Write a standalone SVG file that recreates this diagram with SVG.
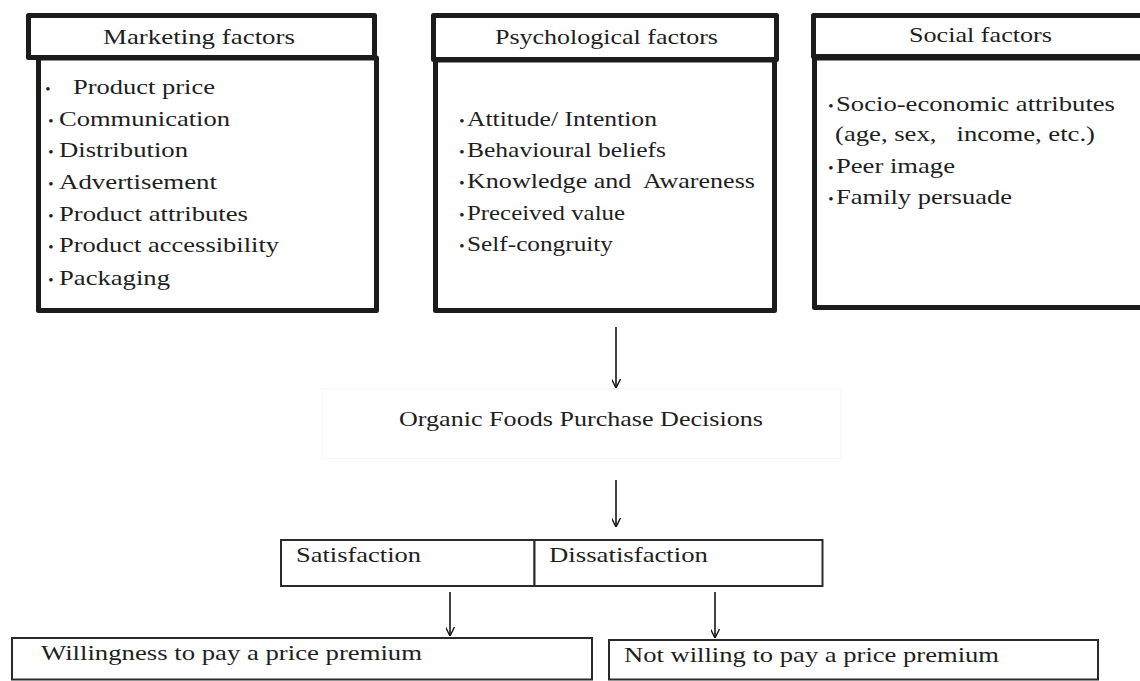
<svg xmlns="http://www.w3.org/2000/svg" width="1140" height="681" viewBox="0 0 1140 681" font-family="'Liberation Serif', 'DejaVu Serif', serif">
  <style>
    .thick { fill: #ffffff; stroke: #1c1c1c; stroke-width: 5; stroke-linejoin: round; }
    .thin { fill: #ffffff; stroke: #2a2a2a; stroke-width: 2; }
    .faint { fill: none; stroke: #f7f7f7; stroke-width: 1; }
    text { font-family: 'Liberation Serif', 'DejaVu Serif', serif; fill: #1e1e1e; }
    .t { font-size: 21px; }
    .h { font-size: 22px; }
    .lo { font-size: 22px; }
    .b { font-size: 15px; text-anchor: middle; }
    .arrow { stroke: #151515; stroke-width: 1.6; fill: none; marker-end: url(#head); }
  </style>
  <defs>
    <marker id="head" viewBox="0 0 10 10" refX="10" refY="5" markerWidth="9" markerHeight="9" markerUnits="userSpaceOnUse" orient="auto">
      <path d="M0,0 L10,5 L0,10" fill="none" stroke="#151515" stroke-width="1.6"/>
    </marker>
  </defs>

  <rect width="1140" height="681" fill="#ffffff"/>

  <!-- Marketing factors -->
  <g id="marketing">
    <rect class="thick" x="38.5" y="58" width="338" height="252.5"/>
    <rect class="thick" x="28.5" y="15.5" width="346" height="42"/>
    <text class="h" x="103" y="44" textLength="192" lengthAdjust="spacingAndGlyphs">Marketing factors</text>
    <text class="b" x="48" y="94">•</text>
    <text class="t" x="73" y="94" textLength="142" lengthAdjust="spacingAndGlyphs">Product price</text>
    <text class="b" x="51" y="126">•</text>
    <text class="t" x="59" y="126" textLength="171" lengthAdjust="spacingAndGlyphs">Communication</text>
    <text class="b" x="51" y="157">•</text>
    <text class="t" x="59" y="157" textLength="129" lengthAdjust="spacingAndGlyphs">Distribution</text>
    <text class="b" x="51" y="189">•</text>
    <text class="t" x="59" y="189" textLength="158" lengthAdjust="spacingAndGlyphs">Advertisement</text>
    <text class="b" x="51" y="221">•</text>
    <text class="t" x="59" y="221" textLength="189" lengthAdjust="spacingAndGlyphs">Product attributes</text>
    <text class="b" x="51" y="252">•</text>
    <text class="t" x="59" y="252" textLength="220" lengthAdjust="spacingAndGlyphs">Product accessibility</text>
    <text class="b" x="51" y="285">•</text>
    <text class="t" x="59" y="285" textLength="111" lengthAdjust="spacingAndGlyphs">Packaging</text>
  </g>

  <!-- Psychological factors -->
  <g id="psychological">
    <rect class="thick" x="435.5" y="60" width="339" height="250.5"/>
    <rect class="thick" x="433.5" y="15.5" width="343" height="44"/>
    <text class="h" x="495" y="44" textLength="223" lengthAdjust="spacingAndGlyphs">Psychological factors</text>
    <text class="b" x="462" y="126">•</text>
    <text class="t" x="467" y="126" textLength="190" lengthAdjust="spacingAndGlyphs">Attitude/ Intention</text>
    <text class="b" x="462" y="157">•</text>
    <text class="t" x="467" y="157" textLength="199" lengthAdjust="spacingAndGlyphs">Behavioural beliefs</text>
    <text class="b" x="462" y="188">•</text>
    <text class="t" x="467" y="188" textLength="288" lengthAdjust="spacingAndGlyphs" xml:space="preserve">Knowledge and  Awareness</text>
    <text class="b" x="462" y="220">•</text>
    <text class="t" x="467" y="220" textLength="158" lengthAdjust="spacingAndGlyphs">Preceived value</text>
    <text class="b" x="462" y="251">•</text>
    <text class="t" x="467" y="251" textLength="146" lengthAdjust="spacingAndGlyphs">Self-congruity</text>
  </g>

  <!-- Social factors -->
  <g id="social">
    <rect class="thick" x="814.5" y="58" width="340" height="249.5"/>
    <rect class="thick" x="813.5" y="15.5" width="340" height="41"/>
    <text class="h" x="909" y="42" textLength="143" lengthAdjust="spacingAndGlyphs">Social factors</text>
    <text class="b" x="831" y="111">•</text>
    <text class="t" x="836" y="111" textLength="279" lengthAdjust="spacingAndGlyphs">Socio-economic attributes</text>
    <text class="t" x="835" y="141" textLength="260" lengthAdjust="spacingAndGlyphs" xml:space="preserve">(age, sex,   income, etc.)</text>
    <text class="b" x="831" y="173">•</text>
    <text class="t" x="836" y="173" textLength="119" lengthAdjust="spacingAndGlyphs">Peer image</text>
    <text class="b" x="831" y="204">•</text>
    <text class="t" x="836" y="204" textLength="176" lengthAdjust="spacingAndGlyphs">Family persuade</text>
  </g>

  <!-- Purchase decision -->
  <g id="decision">
    <rect class="faint" x="322.5" y="388.5" width="518" height="70"/>
    <text class="lo" x="399" y="426" textLength="364" lengthAdjust="spacingAndGlyphs">Organic Foods Purchase Decisions</text>
  </g>

  <!-- Outcomes -->
  <g id="satisfaction">
    <rect class="thin" x="281" y="540" width="253.5" height="46"/>
    <text class="lo" x="296" y="562" textLength="125" lengthAdjust="spacingAndGlyphs">Satisfaction</text>
  </g>
  <g id="dissatisfaction">
    <rect class="thin" x="534.5" y="540" width="288" height="46"/>
    <text class="lo" x="549" y="562" textLength="159" lengthAdjust="spacingAndGlyphs">Dissatisfaction</text>
  </g>
  <g id="willing">
    <rect class="thin" x="12" y="638" width="580" height="41.5"/>
    <text class="lo" x="41" y="660" textLength="381" lengthAdjust="spacingAndGlyphs">Willingness to pay a price premium</text>
  </g>
  <g id="not-willing">
    <rect class="thin" x="609" y="640" width="489" height="39.5"/>
    <text class="lo" x="624" y="662" textLength="375" lengthAdjust="spacingAndGlyphs">Not willing to pay a price premium</text>
  </g>

  <!-- Connectors -->
  <g id="connectors">
    <line class="arrow" x1="616" y1="327" x2="616" y2="388"/>
    <line class="arrow" x1="616" y1="480" x2="616" y2="527"/>
    <line class="arrow" x1="450" y1="592" x2="450" y2="636"/>
    <line class="arrow" x1="715" y1="592" x2="715" y2="638"/>
  </g>
</svg>
